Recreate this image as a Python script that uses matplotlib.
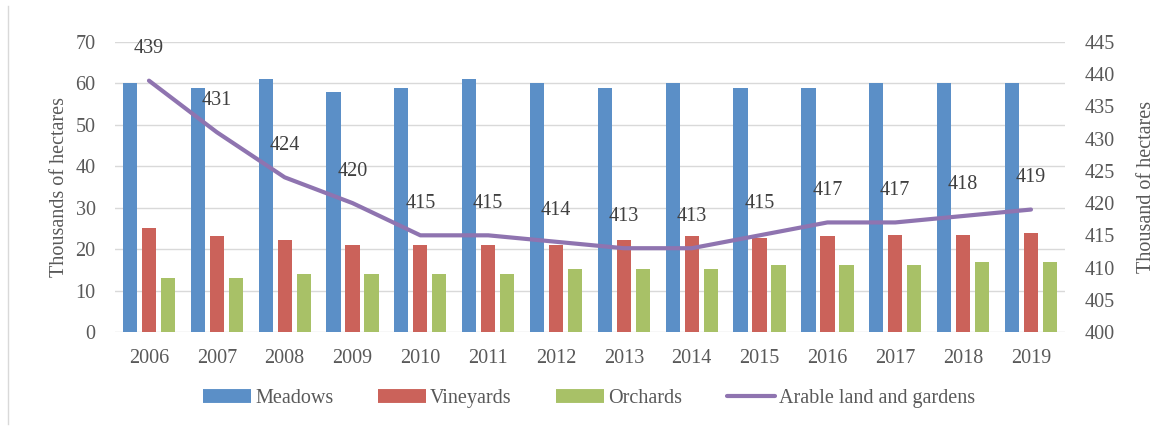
import numpy as np
import matplotlib
matplotlib.use('Agg')
import matplotlib.pyplot as plt
from matplotlib.lines import Line2D

# --- data ---
years = ["2006", "2007", "2008", "2009", "2010", "2011", "2012",
         "2013", "2014", "2015", "2016", "2017", "2018", "2019"]
meadows = [60, 59, 61, 58, 59, 61, 60, 59, 60, 59, 59, 60, 60, 60]
vineyards = [25, 23.2, 22.2, 21.1, 21, 21, 21, 22.1, 23.1, 22.8, 23.1, 23.5, 23.5, 23.8]
orchards = [13, 13, 14, 14, 14, 14, 15.2, 15.2, 15.2, 16.1, 16.1, 16.1, 16.8, 16.8]
arable = [439, 431, 424, 420, 415, 415, 414, 413, 413, 415, 417, 417, 418, 419]

# --- colours ---
c_meadows = "#5B8FC7"
c_vine = "#CB625A"
c_orch = "#A8C167"
c_arable = "#8F74B0"
c_text = "#595959"
c_grid = "#D9D9D9"

plt.rcParams['font.family'] = ['Liberation Serif', 'DejaVu Serif']
fs = 14.5

fig = plt.figure(figsize=(11.55, 4.28), dpi=100)
ax = fig.add_axes([0.0996, 0.2243, 0.8224, 0.6776])
ax2 = ax.twinx()

x = np.arange(len(years))
w = 0.21
off = 0.28
ax.bar(x - off, meadows, w, color=c_meadows, label="Meadows", zorder=2)
ax.bar(x, vineyards, w, color=c_vine, label="Vineyards", zorder=2)
ax.bar(x + off, orchards, w, color=c_orch, label="Orchards", zorder=2)

ax.set_xlim(-0.5, len(years) - 0.5)
ax.set_ylim(0, 70)
ax.set_yticks(range(0, 71, 10))
ax.grid(axis='y', color=c_grid, linewidth=1, zorder=0)
ax.set_axisbelow(True)
for s in ax.spines.values():
    s.set_visible(False)
ax.set_xticks(x)
ax.set_xticklabels(years)
ax.tick_params(axis='both', length=0, labelsize=fs, colors=c_text)
ax.tick_params(axis='x', pad=12)
ax.tick_params(axis='y', pad=14)
ax.set_ylabel("Thousands of hectares", fontsize=fs, color=c_text, labelpad=5)

# arable line on right axis
ax2.plot(x, arable, color=c_arable, linewidth=3, solid_capstyle='round',
         label="Arable land and gardens", zorder=3)
for xi, v in zip(x, arable):
    ax2.annotate(str(v), (xi, v), xytext=(0, 16), textcoords='offset points',
                 ha='center', va='bottom', fontsize=fs, color="#404040")
ax2.set_ylim(400, 445)
ax2.set_yticks(range(400, 446, 5))
for s in ax2.spines.values():
    s.set_visible(False)
ax2.tick_params(axis='y', length=0, labelsize=fs, colors=c_text, pad=14)
ax2.set_ylabel("Thousand of hectares", fontsize=fs, color=c_text, labelpad=16)

# legend
handles = [
    Line2D([0], [0], color=c_meadows, linewidth=10, solid_capstyle='butt'),
    Line2D([0], [0], color=c_vine, linewidth=10, solid_capstyle='butt'),
    Line2D([0], [0], color=c_orch, linewidth=10, solid_capstyle='butt'),
    Line2D([0], [0], color=c_arable, linewidth=3, solid_capstyle='round'),
]
labels = ["Meadows", "Vineyards", "Orchards", "Arable land and gardens"]
leg = fig.legend(handles, labels, loc='center', bbox_to_anchor=(0.51, 0.07),
                 ncol=4, frameon=False, fontsize=fs, handlelength=2.4,
                 handletextpad=0.2, columnspacing=2.2)
for t in leg.get_texts():
    t.set_color(c_text)

# thin chart frame on the left
fig.add_artist(Line2D([0.007, 0.007], [0.01, 0.985], transform=fig.transFigure,
                      color=c_grid, linewidth=1))

fig.savefig("out.png", dpi=100)
